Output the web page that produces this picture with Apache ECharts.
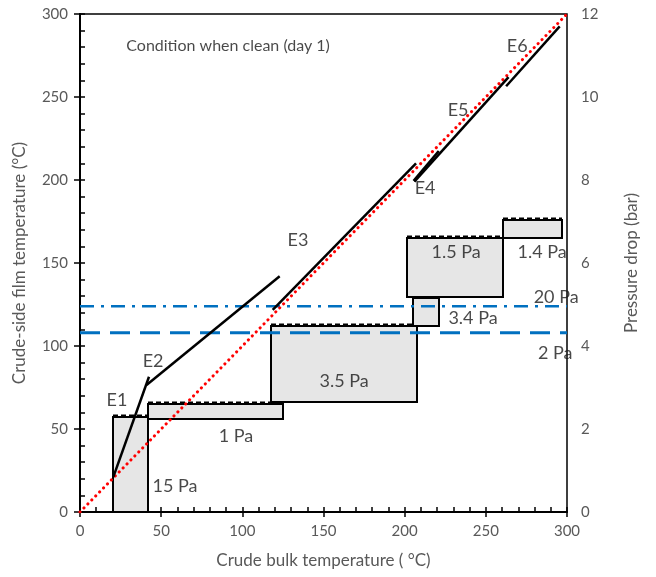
<!DOCTYPE html>
<html>
<head>
<meta charset="utf-8">
<script src="https://cdn.jsdelivr.net/npm/echarts@6/dist/echarts.min.js"></script>
<style>
  html, body { margin: 0; padding: 0; background: #fff; }
  #chart { width: 656px; height: 577px; }
</style>
</head>
<body>
<div id="chart"></div>
<script>
// Exchanger film-temperature segments: [bulk T, film T] end points
const E1 = [[20.5, 21], [42.5, 81.5]];
const E2 = [[41, 76.5], [123, 142]];
const E3 = [[118.7, 121.7], [207, 210]];
const E4 = [[205.5, 199.5], [221, 217.5]];
const E5 = [[206, 199], [264, 262]];
const E6 = [[262.5, 256.5], [295.5, 292.5]];

// Pressure-drop boxes: bulk T from, bulk T to, bar from, bar to
const boxXStart = [20.5, 42, 117.5, 205.4, 201.5, 260.8];
const boxXEnd   = [42, 125.3, 207.8, 221.4, 260.8, 296.8];
const boxBarLow = [0, 2.24, 2.64, 4.47, 5.18, 6.61];
const boxBarHigh= [2.3, 2.6, 4.47, 5.16, 6.61, 7.04];

// Wall shear threshold levels (film temperature scale)
const level20Pa = 124;
const level2Pa = 108;

// Title text at [bulk T, film T]
const title = [91.2, 280.7, 'Condition when clean (day 1)'];

// Exchanger and shear-stress annotations: [bulk T, film T, text]
const notes = [
  [22.8, 67.5, 'E1'], [45, 91, 'E2'], [134.3, 164, 'E3'],
  [212.6, 195.2, 'E4'], [232.9, 242.2, 'E5'], [269.3, 280.7, 'E6'],
  [58.5, 15.7, '15 Pa'], [96.1, 45.8, '1 Pa'], [162.7, 78.9, '3.5 Pa'],
  [242.1, 116.9, '3.4 Pa'], [231.7, 156.6, '1.5 Pa'], [284.7, 156.6, '1.4 Pa'],
  [293.3, 129.5, '20 Pa'], [292.7, 95.8, '2 Pa']
];

const FONT = 'Lato';
const GREY = '#595959';

const chart = echarts.init(document.getElementById('chart'), null, { renderer: 'canvas' });

const boxData = boxXStart.map((x0, i) => [x0, boxXEnd[i], boxBarLow[i], boxBarHigh[i]]);

function segment(pts) {
  return {
    type: 'line', data: pts, symbol: 'none', silent: true, z: 5,
    lineStyle: { color: '#000', width: 2.5 }
  };
}

const option = {
  animation: false,
  grid: { left: 80, right: 89, top: 14, bottom: 65, show: true, borderColor: '#000', borderWidth: 1.5, backgroundColor: 'transparent' },
  xAxis: [
    {
      type: 'value', min: 0, max: 300, interval: 50,
      name: 'Crude bulk temperature ( °C)', nameLocation: 'middle', nameGap: 40,
      nameTextStyle: { color: GREY, fontSize: 17, fontFamily: FONT },
      axisLine: { show: true, lineStyle: { color: '#000', width: 2 } },
      axisTick: { show: true, inside: true, length: 5, lineStyle: { color: '#000', width: 1.5 } },
      minorTick: { show: true, splitNumber: 5, length: 5, lineStyle: { color: '#000', width: 1.5 } },
      axisLabel: { color: GREY, fontSize: 15, fontFamily: FONT, margin: 12 },
      splitLine: { show: false }
    },
    {
      type: 'value', min: 0, max: 300, interval: 50, position: 'bottom',
      axisLine: { show: false },
      axisTick: { show: true, inside: false, length: 5, lineStyle: { color: '#000', width: 1.5 } },
      axisLabel: { show: false }, splitLine: { show: false }
    }
  ],
  yAxis: [
    {
      type: 'value', min: 0, max: 300, interval: 50, position: 'left',
      name: 'Crude-side film temperature (°C)', nameLocation: 'middle', nameGap: 52,
      nameTextStyle: { color: GREY, fontSize: 17, fontFamily: FONT },
      axisLine: { show: true, lineStyle: { color: '#000', width: 2 } },
      axisTick: { show: true, inside: true, length: 5, lineStyle: { color: '#000', width: 1.5 } },
      minorTick: { show: true, splitNumber: 5, length: 5, lineStyle: { color: '#000', width: 1.5 } },
      axisLabel: { color: GREY, fontSize: 15, fontFamily: FONT, margin: 12 },
      splitLine: { show: false }
    },
    {
      type: 'value', min: 0, max: 12, interval: 2, position: 'right',
      name: 'Pressure drop (bar)', nameLocation: 'middle', nameGap: 56, nameRotate: 90,
      nameTextStyle: { color: GREY, fontSize: 17, fontFamily: FONT },
      axisLine: { show: true, lineStyle: { color: '#000', width: 2 } },
      axisTick: { show: true, inside: true, length: 6, lineStyle: { color: '#000', width: 1.5 } },
      axisLabel: { color: GREY, fontSize: 15, fontFamily: FONT, margin: 14 },
      splitLine: { show: false }
    },
    {
      type: 'value', min: 0, max: 300, interval: 50, position: 'left',
      axisLine: { show: false },
      axisTick: { show: true, inside: false, length: 5, lineStyle: { color: '#000', width: 1.5 } },
      axisLabel: { show: false }, splitLine: { show: false }
    }
  ],
  series: [
    {
      // pressure-drop boxes on the bar axis
      type: 'custom', yAxisIndex: 1, z: 2, silent: true,
      data: boxData,
      encode: { x: [0, 1], y: [2, 3] },
      renderItem: function (params, api) {
        const p0 = api.coord([api.value(0), api.value(3)]);
        const p1 = api.coord([api.value(1), api.value(2)]);
        const x = Math.round(p0[0]), y = Math.round(p0[1]);
        const w = Math.round(p1[0]) - x, h = Math.round(p1[1]) - y;
        return {
          type: 'group',
          children: [
            { type: 'rect', shape: { x: x, y: y, width: w, height: h },
              style: { fill: '#E6E6E6', stroke: '#000', lineWidth: 2 } },
            { type: 'line', shape: { x1: x, y1: y - 1.5, x2: x + w, y2: y - 1.5 },
              style: { stroke: '#000', lineWidth: 2, lineDash: [5, 3] } }
          ]
        };
      }
    },
    {
      // bulk = film reference line
      type: 'line', data: [[0, 0], [300, 300]], symbol: 'none', silent: true, z: 4,
      lineStyle: { color: '#FF0000', width: 3, type: [0.1, 5.5], cap: 'round' }
    },
    {
      type: 'line', data: [[0, level20Pa], [300, level20Pa]], symbol: 'none', silent: true, z: 3,
      lineStyle: { color: '#0070C0', width: 2.5, type: [14, 7, 3, 7] }
    },
    {
      type: 'line', data: [[0, level2Pa], [300, level2Pa]], symbol: 'none', silent: true, z: 3,
      lineStyle: { color: '#0070C0', width: 3, type: [20, 10] }
    },
    segment(E1), segment(E2), segment(E3), segment(E4), segment(E5), segment(E6),
    {
      type: 'scatter', symbolSize: 0, silent: true, z: 10,
      data: [{ value: [title[0], title[1]], name: title[2] }],
      label: {
        show: true, position: 'inside', formatter: '{b}',
        color: '#1a1a1a', fontSize: 16, fontFamily: FONT
      }
    },
    {
      type: 'scatter', symbolSize: 0, silent: true, z: 10,
      data: notes.map(n => ({ value: [n[0], n[1]], name: n[2] })),
      label: {
        show: true, position: 'inside', formatter: '{b}',
        color: '#1a1a1a', fontSize: 18, fontFamily: FONT
      }
    }
  ]
};

chart.setOption(option);
</script>
</body>
</html>
